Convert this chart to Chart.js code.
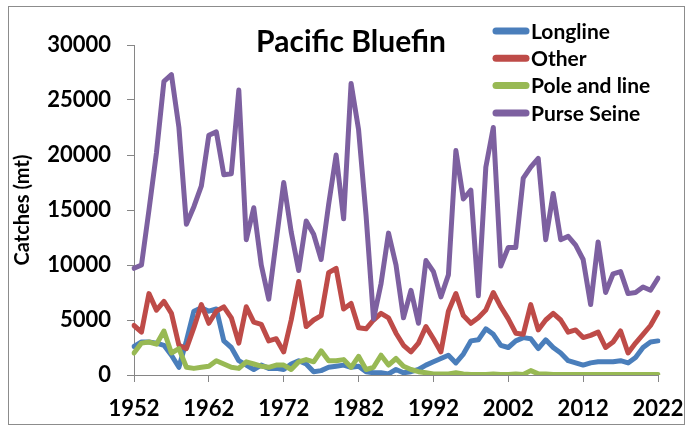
<!DOCTYPE html>
<html>
<head>
<meta charset="utf-8">
<script src="https://cdn.jsdelivr.net/npm/chart.js@4/dist/chart.umd.min.js"></script>
<style>
  html, body { margin: 0; padding: 0; background: #fff; }
  #wrap { width: 686px; height: 427px; }
</style>
</head>
<body>
<div id="wrap"><canvas id="c" width="686" height="427"></canvas></div>
<script>
const years = [1952,1953,1954,1955,1956,1957,1958,1959,1960,1961,
  1962,1963,1964,1965,1966,1967,1968,1969,1970,1971,
  1972,1973,1974,1975,1976,1977,1978,1979,1980,1981,
  1982,1983,1984,1985,1986,1987,1988,1989,1990,1991,
  1992,1993,1994,1995,1996,1997,1998,1999,2000,2001,
  2002,2003,2004,2005,2006,2007,2008,2009,2010,2011,
  2012,2013,2014,2015,2016,2017,2018,2019,2020,2021,
  2022];
const tickYears = [1952,1962,1972,1982,1992,2002,2012,2022];

const longline = [2600,3000,3000,2900,2700,1800,700,3100,5800,6100,
  5800,6000,3100,2500,1300,900,500,900,600,600,
  500,1000,1300,1000,300,400,700,800,900,700,
  800,300,200,200,100,500,200,300,500,900,
  1200,1500,1800,1100,1900,3100,3200,4200,3700,2700,
  2500,3100,3400,3300,2400,3200,2500,2000,1300,1100,
  900,1100,1200,1200,1200,1300,1100,1600,2500,3000,
  3100];
const other = [4500,3900,7400,5900,6700,5600,2700,2400,4300,6400,
  4700,5800,6200,5200,2900,6200,4800,4600,3100,3300,
  2100,5000,8500,4400,5000,5400,9300,9700,6000,6500,
  4300,4200,5000,5600,5200,3800,2700,2100,2900,4400,
  3300,2100,5800,7400,5400,4700,5200,5900,7500,6200,
  5100,3800,3700,6400,4100,5000,5600,5000,3900,4100,
  3400,3600,3900,2500,3000,4000,2000,2900,3700,4500,
  5700];
const poleLine = [2000,2900,3000,2800,4000,2000,2400,700,600,700,
  800,1300,1000,700,600,1200,1000,800,700,900,
  900,500,1200,1400,1200,2200,1300,1300,1400,700,
  1700,500,700,1800,900,1500,800,500,300,200,
  100,100,100,200,100,50,50,50,100,50,
  50,100,50,400,100,100,50,50,50,50,
  50,50,50,50,50,50,50,50,50,50,
  50];
const purseSeine = [9700,10000,15000,20200,26700,27300,22500,13700,15300,17200,
  21800,22100,18200,18300,25900,12300,15200,10000,6900,12200,
  17500,13000,9500,14000,12800,10500,15500,20000,14200,26500,
  22300,14500,5100,8300,12900,10000,5200,7700,4700,10400,
  9400,7100,9100,20400,16000,16800,7200,18900,22500,9900,
  11600,11600,17900,18900,19700,12300,16500,12300,12600,11800,
  10500,6400,12100,7500,9200,9400,7400,7500,8000,7700,
  8800];

const seriesNames = ['Longline','Other','Pole and line','Purse Seine'];
const seriesColors = ['#4a7ebb','#be4b48','#98b954','#7d60a0'];
const seriesData = [longline, other, poleLine, purseSeine];

const FONT = 'Lato, "Liberation Sans", sans-serif';
const AXIS = '#868686';

let datasets = [];
for (let d = 0; d < seriesData.length; d++) {
  datasets.push({
    label: seriesNames[d],
    data: seriesData[d],
    borderColor: seriesColors[d],
    backgroundColor: seriesColors[d],
    borderWidth: 5,
    pointRadius: 0,
    tension: 0,
    borderJoinStyle: 'round',
    borderCapStyle: 'round',
    order: seriesData.length - d
  });
}

// title, legend and outer frame drawn like the excel chart
const decor = {
  id: 'decor',
  beforeDraw(chart) {
    const ctx = chart.ctx;
    ctx.save();
    ctx.strokeStyle = '#8c8c8c';
    ctx.lineWidth = 1;
    ctx.strokeRect(8.5, 6.5, 676, 418);
    ctx.restore();
  },
  afterDraw(chart) {
    const ctx = chart.ctx;
    ctx.save();
    ctx.fillStyle = '#000';
    ctx.font = 'bold 30px ' + FONT;
    ctx.textAlign = 'center';
    ctx.textBaseline = 'middle';
    ctx.fillText('Pacific Bluefin', 351, 42);

    ctx.font = 'bold 21px ' + FONT;
    ctx.textAlign = 'left';
    chart.data.datasets.forEach((ds, i) => {
      const y = 31 + i * 27.3;
      ctx.strokeStyle = ds.borderColor;
      ctx.lineWidth = 7;
      ctx.lineCap = 'round';
      ctx.beginPath();
      ctx.moveTo(496, y);
      ctx.lineTo(526, y);
      ctx.stroke();
      ctx.fillText(ds.label, 531, y + 1);
    });
    ctx.restore();
  }
};

new Chart(document.getElementById('c'), {
  type: 'line',
  data: { labels: years, datasets },
  plugins: [decor],
  options: {
    responsive: false,
    animation: false,
    layout: { padding: { left: 11, top: 45, right: 0, bottom: 0 } },
    plugins: {
      legend: { display: false },
      title: { display: false },
      tooltip: { enabled: false }
    },
    scales: {
      x: {
        type: 'category',
        afterFit: (s) => { s.height = 52; s.paddingRight = 28; s.paddingLeft = 0; },
        grid: {
          drawOnChartArea: false,
          drawTicks: true,
          tickLength: 7,
          color: (c) => (c.tick && tickYears.includes(years[c.index])) ? AXIS : 'rgba(0,0,0,0)'
        },
        border: { color: AXIS, width: 1 },
        ticks: {
          autoSkip: false,
          maxRotation: 0,
          minRotation: 0,
          padding: 14,
          color: '#000',
          font: { family: FONT, size: 22, weight: 'bold' },
          callback: function(val, i) { return tickYears.includes(years[i]) ? String(years[i]) : ''; }
        }
      },
      y: {
        min: 0,
        max: 30000,
        afterFit: (s) => { s.width = 123; },
        grid: { drawOnChartArea: false, drawTicks: true, tickLength: 7, color: AXIS },
        border: { color: AXIS, width: 1 },
        ticks: {
          stepSize: 5000,
          padding: 16,
          color: '#000',
          font: { family: FONT, size: 22, weight: 'bold' },
          callback: (v) => String(v)
        },
        title: {
          display: true,
          text: 'Catches (mt)',
          color: '#000',
          font: { family: FONT, size: 20, weight: 'bold' },
          padding: { top: 0, bottom: 4 }
        }
      }
    }
  }
});
</script>
</body>
</html>
